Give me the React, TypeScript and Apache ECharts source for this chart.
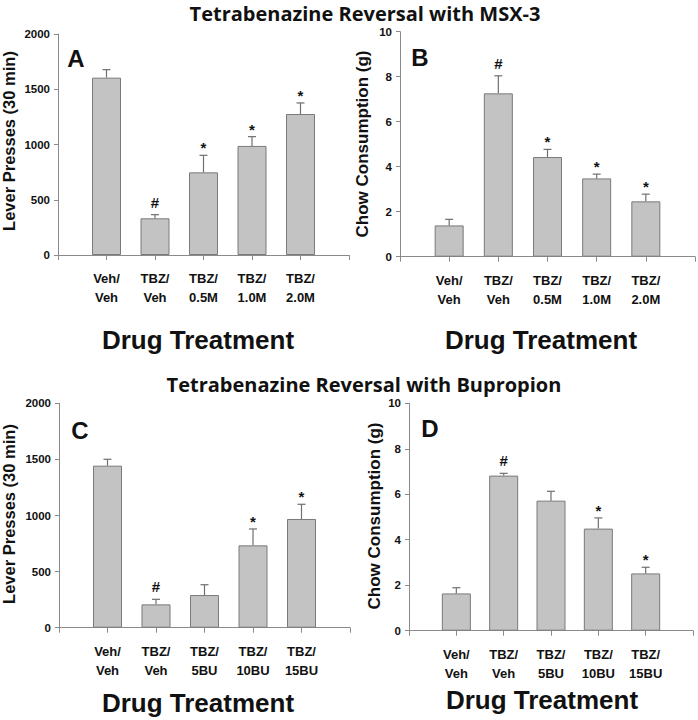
import React, { useEffect, useRef } from "react";
import * as echarts from "echarts";

const catsMSX = ["Veh/\nVeh", "TBZ/\nVeh", "TBZ/\n0.5M", "TBZ/\n1.0M", "TBZ/\n2.0M"];
const catsBU = ["Veh/\nVeh", "TBZ/\nVeh", "TBZ/\n5BU", "TBZ/\n10BU", "TBZ/\n15BU"];

const leverMSX = [1605, 332, 748, 987, 1276];
const leverMSXSem = [72, 33, 154, 84, 100];
const leverMSXMarks = ["", "#", "*", "*", "*"];

const chowMSX = [1.39, 7.26, 4.43, 3.48, 2.46];
const chowMSXSem = [0.27, 0.78, 0.34, 0.19, 0.32];
const chowMSXMarks = ["", "#", "*", "*", "*"];

const leverBU = [1444, 208, 291, 734, 969];
const leverBUSem = [57, 45, 92, 146, 131];
const leverBUMarks = ["", "#", "", "*", "*"];

const chowBU = [1.64, 6.82, 5.72, 4.49, 2.52];
const chowBUSem = [0.25, 0.1, 0.41, 0.47, 0.27];
const chowBUMarks = ["", "#", "", "*", "*"];

const leverTicks = { max: 2000, interval: 500 };
const chowTicks = { max: 10, interval: 2 };

const AX = "#8a8a8a";
const TXT = "#111";
const FONT = "Liberation Sans";

export default function App() {
  const ref = useRef<HTMLDivElement>(null);
  useEffect(() => {
    if (!ref.current) return;
    const chart = echarts.init(ref.current, undefined, { renderer: "svg" });

    const grids = [
      { left: 58, top: 34, width: 291, height: 221 },
      { left: 400, top: 31.7, width: 297, height: 225 },
      { left: 59, top: 403.3, width: 291, height: 224.4 },
      { left: 409, top: 403.3, width: 284, height: 227.4 },
    ];
    const panels = [
      { cats: catsMSX, vals: leverMSX, sems: leverMSXSem, marks: leverMSXMarks, ticks: leverTicks },
      { cats: catsMSX, vals: chowMSX, sems: chowMSXSem, marks: chowMSXMarks, ticks: chowTicks },
      { cats: catsBU, vals: leverBU, sems: leverBUSem, marks: leverBUMarks, ticks: leverTicks },
      { cats: catsBU, vals: chowBU, sems: chowBUSem, marks: chowBUMarks, ticks: chowTicks },
    ];

    const xAxis: any[] = [];
    const yAxis: any[] = [];
    const series: any[] = [];
    panels.forEach((p, i) => {
      xAxis.push({
        gridIndex: i,
        type: "category",
        data: ["", ...p.cats, ""],
        boundaryGap: false,
        axisLine: { lineStyle: { color: AX, width: 1 } },
        axisTick: { show: true, length: 5, lineStyle: { color: AX } },
        axisLabel: {
          interval: 0,
          fontFamily: FONT,
          fontWeight: "bold",
          fontSize: 13,
          lineHeight: 19,
          color: TXT,
          margin: 14,
        },
        splitLine: { show: false },
      });
      yAxis.push({
        gridIndex: i,
        type: "value",
        min: 0,
        max: p.ticks.max,
        interval: p.ticks.interval,
        axisLine: { show: true, lineStyle: { color: AX, width: 1 } },
        axisTick: { show: true, length: 4, lineStyle: { color: AX } },
        axisLabel: {
          fontFamily: FONT,
          fontWeight: "bold",
          fontSize: 11.5,
          color: TXT,
          margin: 8,
          formatter: (v: number) => String(v),
        },
        splitLine: { show: false },
      });
      series.push({
        type: "bar",
        xAxisIndex: i,
        yAxisIndex: i,
        data: ["-", ...p.vals, "-"],
        barWidth: 29,
        itemStyle: { color: "#c3c3c3", borderColor: "#7a7a7a", borderWidth: 1 },
        z: 2,
      });
      const marks = p.marks;
      series.push({
        type: "custom",
        xAxisIndex: i,
        yAxisIndex: i,
        z: 3,
        data: p.vals.map((v, k) => [k + 1, v, v + p.sems[k]]),
        encode: { x: 0, y: [1, 2] },
        renderItem: (params: any, api: any) => {
          const xi = api.value(0);
          const b = api.coord([xi, api.value(1)]);
          const t = api.coord([xi, api.value(2)]);
          const m = marks[params.dataIndex];
          const children: any[] = [
            { type: "line", shape: { x1: b[0], y1: b[1], x2: t[0], y2: t[1] }, style: { stroke: "#6f6f6f", lineWidth: 1.2 } },
            { type: "line", shape: { x1: t[0] - 4, y1: t[1], x2: t[0] + 4, y2: t[1] }, style: { stroke: "#6f6f6f", lineWidth: 1.2 } },
          ];
          if (m) {
            children.push({
              type: "text",
              x: t[0],
              y: t[1] - (m === "#" ? 5 : 0),
              style: {
                text: m,
                align: "center",
                verticalAlign: "bottom",
                fontSize: 15,
                fontWeight: "bold",
                fontFamily: FONT,
                fill: TXT,
              },
            });
          }
          return { type: "group", children };
        },
      });
    });

    const txt = (x: number, y: number, text: string, size: number, family: string, rot = 0) => ({
      type: "text",
      x,
      y,
      rotation: rot,
      style: {
        text,
        fontSize: size,
        fontWeight: "bold",
        fontFamily: family,
        fill: TXT,
        align: "center",
        verticalAlign: "middle",
      },
    });

    const graphic = [
      txt(365, 13, "Tetrabenazine Reversal with MSX-3", 20, "Open Sans"),
      txt(364, 384, "Tetrabenazine Reversal with Bupropion", 20, "Open Sans"),
      txt(9, 141, "Lever Presses (30 min)", 16.5, FONT, Math.PI / 2),
      txt(362, 144, "Chow Consumption (g)", 17, FONT, Math.PI / 2),
      txt(9, 514, "Lever Presses (30 min)", 16.5, FONT, Math.PI / 2),
      txt(374, 516, "Chow Consumption (g)", 17, FONT, Math.PI / 2),
      txt(76, 58, "A", 24, FONT),
      txt(420, 57, "B", 24, FONT),
      txt(80, 430, "C", 24, FONT),
      txt(430, 428, "D", 24, FONT),
      txt(198, 340, "Drug Treatment", 26, FONT),
      txt(541, 340, "Drug Treatment", 26, FONT),
      txt(198, 703, "Drug Treatment", 26, FONT),
      txt(542, 700, "Drug Treatment", 26, FONT),
    ];

    chart.setOption({
      animation: false,
      backgroundColor: "#ffffff",
      grid: grids,
      xAxis,
      yAxis,
      series,
      graphic,
    });
    return () => chart.dispose();
  }, []);
  return <div ref={ref} style={{ position: "absolute", left: 0, top: 0, width: 698, height: 720 }} />;
}
